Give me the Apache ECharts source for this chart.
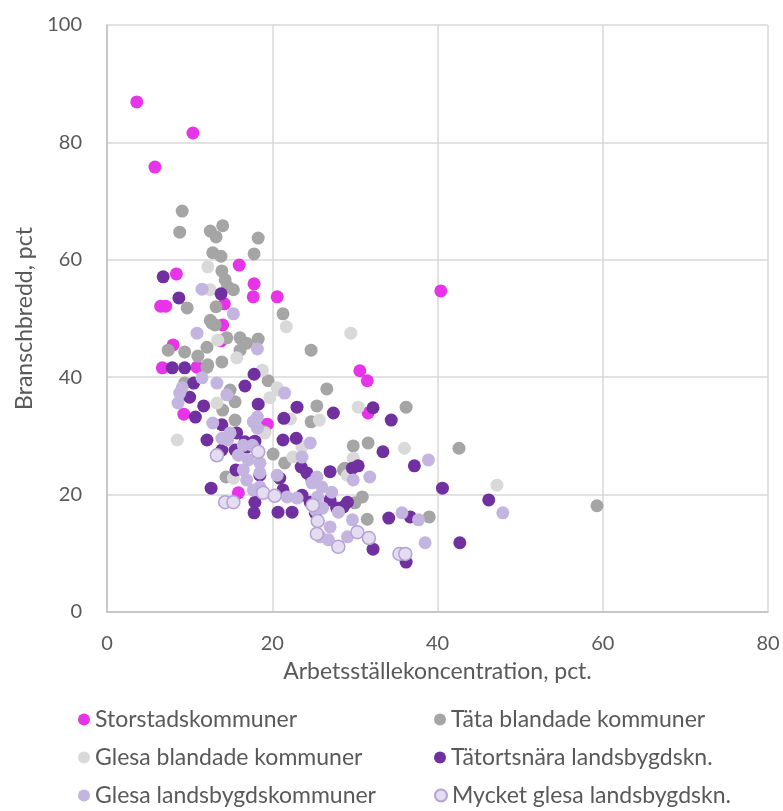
<!DOCTYPE html>
<html>
<head>
<meta charset="utf-8">
<script src="https://cdn.jsdelivr.net/npm/echarts@6/dist/echarts.min.js"></script>
<style>html,body{margin:0;padding:0;background:#fff}#c{width:783px;height:811px}</style>
</head>
<body>
<div id="c"></div>
<script>
var seriesNames = ["Storstadskommuner","Täta blandade kommuner","Glesa blandade kommuner","Tätortsnära landsbygdskn.","Glesa landsbygdskommuner","Mycket glesa landsbygdskn."];
var xTicks = [0,20,40,60,80];
var yTicks = [0,20,40,60,80,100];

var storstad = [[3.6,86.9],[10.4,81.6],[5.8,75.8],[16.0,59.1],[8.4,57.6],[17.8,55.9],[17.7,53.7],[20.6,53.7],[7.1,52.1],[6.5,52.1],[14.2,52.5],[14.0,48.9],[8.0,45.5],[13.8,46.2],[6.7,41.6],[10.9,41.7],[9.3,33.7],[19.4,32.0],[15.9,20.3],[30.6,41.1],[31.5,39.4],[31.6,33.9],[40.4,54.7]];

var tata = [[9.1,68.3],[8.8,64.7],[12.5,64.9],[14.0,65.8],[13.2,63.9],[18.3,63.7],[12.8,61.2],[13.8,60.6],[17.8,61.0],[13.9,58.1],[14.3,56.6],[14.6,55.4],[15.3,54.9],[9.7,51.8],[13.2,52.0],[12.5,49.7],[13.1,48.9],[21.3,50.8],[14.5,46.7],[16.1,46.7],[16.9,45.8],[18.3,46.5],[12.1,45.1],[9.4,44.3],[7.4,44.6],[11.0,43.6],[13.9,42.6],[16.1,44.6],[12.1,41.7],[19.5,39.4],[24.7,44.6],[26.6,38.0],[25.4,35.1],[24.7,32.4],[36.2,34.9],[31.6,28.8],[29.8,28.3],[42.6,27.9],[28.8,24.5],[30.9,19.6],[30.0,18.6],[31.5,15.8],[39.0,16.2],[59.3,18.1],[14.9,37.8],[14.0,34.4],[15.5,32.7],[19.1,30.7],[20.1,26.9],[21.5,25.4],[14.4,23.0],[28.6,24.2],[12.7,49.2],[12.2,42.1],[9.4,39.0],[15.5,35.8]];

var glesaBland = [[12.2,58.8],[21.7,48.6],[13.4,46.3],[15.7,43.3],[18.8,41.2],[20.6,38.2],[29.5,47.5],[30.4,34.9],[25.7,32.7],[36.0,27.9],[29.1,23.3],[47.2,21.6],[8.5,29.3],[13.3,35.6],[19.7,36.5],[20.7,37.8],[19.1,30.5],[15.3,22.8],[22.2,32.9],[22.5,26.4],[23.6,28.1],[29.8,26.2],[12.5,54.9]];

var tatort = [[6.8,57.1],[8.7,53.5],[13.8,54.2],[7.9,41.6],[9.4,41.6],[17.8,40.5],[16.7,38.5],[10.5,39.0],[10.0,36.6],[11.7,35.1],[18.3,35.4],[23.0,34.9],[21.4,33.0],[10.7,33.2],[13.9,31.9],[27.4,33.9],[15.7,30.5],[16.7,29.0],[12.1,29.3],[17.9,29.1],[21.3,29.3],[22.9,29.6],[13.9,27.6],[15.5,27.6],[15.6,24.2],[18.5,23.3],[20.9,22.8],[21.3,20.8],[12.6,21.1],[23.5,24.7],[24.2,23.7],[27.0,23.9],[24.8,22.5],[28.6,17.9],[27.8,17.7],[17.8,16.9],[20.7,17.0],[22.4,17.0],[25.2,16.9],[32.2,34.8],[34.4,32.7],[33.4,27.3],[30.4,24.9],[29.7,24.5],[37.2,24.9],[40.6,21.1],[46.2,19.1],[29.1,18.7],[34.1,16.0],[36.7,16.2],[42.7,11.8],[32.2,10.7],[36.2,8.5],[24.6,18.7],[27.0,19.1],[16.9,28.1],[17.9,18.7],[23.6,19.9]];

var glesaLand = [[11.5,55.0],[15.3,50.8],[10.9,47.5],[18.2,44.8],[13.3,39.0],[8.8,37.3],[14.5,37.0],[8.6,35.6],[12.8,32.2],[17.7,32.4],[21.5,37.3],[9.1,38.2],[11.5,39.9],[14.6,29.3],[18.2,31.3],[13.9,29.6],[14.9,30.5],[16.5,28.4],[17.6,28.4],[15.9,26.7],[17.1,25.9],[18.5,25.4],[16.5,24.2],[18.5,23.7],[20.6,23.3],[16.9,22.5],[18.5,21.3],[17.7,20.8],[24.6,28.8],[23.6,26.4],[25.4,23.0],[26.0,21.3],[25.5,19.6],[23.0,19.4],[21.8,19.6],[24.8,22.0],[27.2,20.4],[26.1,17.7],[29.7,15.7],[27.0,14.5],[29.1,12.8],[37.7,15.7],[35.7,16.9],[47.9,16.9],[38.5,11.8],[26.8,12.3],[31.8,23.0],[29.8,22.5],[38.9,25.9],[25.2,17.4],[28.0,17.0],[18.2,33.2],[25.8,12.8]];

var mycketGlesa = [[13.3,26.7],[18.3,27.3],[18.9,20.3],[20.3,19.8],[14.3,18.7],[15.3,18.7],[24.9,18.2],[25.5,15.5],[25.4,13.3],[28.0,11.1],[30.3,13.6],[31.7,12.6],[35.4,9.9],[36.1,9.9]];

var colors = ["#e834e8","#a5a5a5","#d9d9d9","#7030a0","#c3b5df","#e4dcf0"];
var dataSets = [storstad,tata,glesaBland,tatort,glesaLand,mycketGlesa];

var FONT = "Lato";
var series = seriesNames.map(function(n,i){
  var st = {color: colors[i], opacity: 1};
  if (i === 5) { st.borderColor = "#b4a2d4"; st.borderWidth = 1.5; }
  return {
    name: n, type: 'scatter', data: dataSets[i], symbol: 'circle', symbolSize: 13,
    itemStyle: st, emphasis: {disabled: true}
  };
});

var legendPos = [[78,708],[434,708],[78,746],[434,746],[78,784],[434,784]];
var legends = seriesNames.map(function(n,i){
  return {
    data: [n], left: legendPos[i][0], top: legendPos[i][1], icon: 'circle',
    itemWidth: 12, itemHeight: 12, itemGap: 5, padding: 0,
    textStyle: {fontFamily: FONT, fontSize: 23, color: '#595959'},
    selectedMode: false
  };
});

var chart = echarts.init(document.getElementById('c'), null, {renderer: 'canvas'});
chart.setOption({
  animation: false,
  backgroundColor: '#fff',
  grid: {left: 107, right: 15, top: 25, bottom: 199, containLabel: false},
  legend: legends,
  xAxis: {
    type: 'value', min: 0, max: 80, interval: 20,
    name: 'Arbetsställekoncentration, pct.', nameLocation: 'middle', nameGap: 48,
    nameTextStyle: {fontFamily: FONT, fontSize: 23, color: '#595959'},
    axisLine: {show: true, lineStyle: {color: '#bfbfbf', width: 1.5}},
    axisTick: {show: false},
    axisLabel: {fontFamily: FONT, fontSize: 20, color: '#595959', margin: 22,
      formatter: function(v){ return xTicks.indexOf(v) >= 0 ? String(v) : ''; }},
    splitLine: {show: true, lineStyle: {color: '#d9d9d9', width: 1.5}}
  },
  yAxis: {
    type: 'value', min: 0, max: 100, interval: 20,
    name: 'Branschbredd, pct', nameLocation: 'middle', nameGap: 70,
    nameTextStyle: {fontFamily: FONT, fontSize: 23, color: '#595959'},
    axisLine: {show: true, lineStyle: {color: '#bfbfbf', width: 1.5}},
    axisTick: {show: false},
    axisLabel: {fontFamily: FONT, fontSize: 20, color: '#595959', margin: 25,
      formatter: function(v){ return yTicks.indexOf(v) >= 0 ? String(v) : ''; }},
    splitLine: {show: true, lineStyle: {color: '#d9d9d9', width: 1.5}}
  },
  series: series
});
</script>
</body>
</html>
